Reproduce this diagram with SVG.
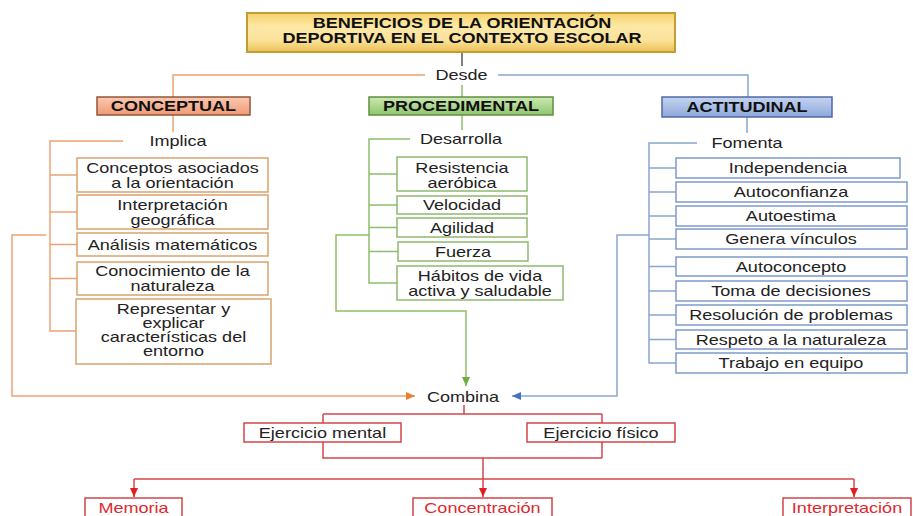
<svg xmlns="http://www.w3.org/2000/svg" width="913" height="516" viewBox="0 0 913 516">
<defs>
<style>
.t{font-family:"Liberation Sans",Arial,sans-serif;font-size:14px;fill:#222;text-anchor:middle}
.b{font-weight:bold;fill:#111}
.r{fill:#e0282e}
.bo{fill:#fff;stroke:#d9a36e;stroke-width:1.5}
.bg{fill:#fff;stroke:#8fb870;stroke-width:1.5}
.bb{fill:#fff;stroke:#7f9acb;stroke-width:1.5}
.br{fill:#fff;stroke:#d2454b;stroke-width:1.5}
.lo{fill:none;stroke:#eaa473;stroke-width:1.5}
.lg{fill:none;stroke:#8dbf6c;stroke-width:1.5}
.lb{fill:none;stroke:#8aa5cf;stroke-width:1.5}
.lr{fill:none;stroke:#d6454b;stroke-width:1.5}
</style>
<linearGradient id="gy" x1="0" y1="0" x2="0" y2="1">
<stop offset="0" stop-color="#f5d26a"/><stop offset="0.35" stop-color="#fde8a6"/><stop offset="0.7" stop-color="#fbe29c"/><stop offset="1" stop-color="#eac050"/>
</linearGradient>
<linearGradient id="go" x1="0" y1="0" x2="0" y2="1">
<stop offset="0" stop-color="#fbc9b1"/><stop offset="1" stop-color="#ef9a77"/>
</linearGradient>
<linearGradient id="gg" x1="0" y1="0" x2="0" y2="1">
<stop offset="0" stop-color="#cde8b5"/><stop offset="1" stop-color="#90c56c"/>
</linearGradient>
<linearGradient id="gb" x1="0" y1="0" x2="0" y2="1">
<stop offset="0" stop-color="#c5d3f0"/><stop offset="1" stop-color="#8ea8dc"/>
</linearGradient>
<marker id="ao" markerUnits="userSpaceOnUse" markerWidth="9" markerHeight="8" refX="9" refY="4" orient="auto"><path d="M0,0 L9,4 L0,8 z" fill="#ed7d31"/></marker>
<marker id="ag" markerUnits="userSpaceOnUse" markerWidth="9" markerHeight="8" refX="9" refY="4" orient="auto"><path d="M0,0 L9,4 L0,8 z" fill="#70ad47"/></marker>
<marker id="ab" markerUnits="userSpaceOnUse" markerWidth="9" markerHeight="8" refX="9" refY="4" orient="auto"><path d="M0,0 L9,4 L0,8 z" fill="#4472c4"/></marker>
<marker id="ar" markerUnits="userSpaceOnUse" markerWidth="9" markerHeight="8" refX="9" refY="4" orient="auto"><path d="M0,0 L9,4 L0,8 z" fill="#e02020"/></marker>
</defs>
<rect width="913" height="516" fill="#fff"/>

<g id="connectors">
<path d="M462,52 V66" fill="none" stroke="#555" stroke-width="1.5"/>
<path class="lo" d="M425,75 H173 V97"/>
<path class="lb" d="M498,75 H748 V97"/>
<path class="lg" d="M462,85 V97"/>
<path class="lo" d="M173,115 V132"/>
<path class="lg" d="M462,115 V130"/>
<path class="lb" d="M747,117 V133"/>
<path class="lo" d="M123,141 H50 V331 H77 M50,175 H77 M50,212 H77 M50,244.5 H77 M50,278.5 H77"/>
<path class="lg" d="M410,139 H369 V283 H397 M369,174 H397 M369,205 H397 M369,227.5 H397 M369,251.5 H398"/>
<path class="lb" d="M697,143 H649 V363 H676 M649,168 H676 M649,192 H676 M649,216 H676 M649,239 H676 M649,266.5 H676 M649,291 H676 M649,315 H676 M649,339.5 H676"/>
<path class="lo" d="M46,235 H12 V396 H415" marker-end="url(#ao)"/>
<path class="lg" d="M369,235 H336 V311 H466 V386" marker-end="url(#ag)"/>
<path class="lb" d="M649,235 H617 V396 H512" marker-end="url(#ab)"/>
<path class="lr" d="M464,405 V414 M323,414 H602 M323,414 V423 M602,414 V423 M323,442 V458 H602 M602,442 V458 M134,479 H854"/>
<path class="lr" d="M483,458 V497" marker-end="url(#ar)"/>
<path class="lr" d="M134,479 V497" marker-end="url(#ar)"/>
<path class="lr" d="M854,479 V497" marker-end="url(#ar)"/>
</g>

<g id="title">
<rect x="247" y="13" width="428" height="39" fill="url(#gy)" stroke="#c29d36" stroke-width="2"/>
<text class="t b" transform="translate(462 28) scale(1.29 1)">BENEFICIOS DE LA ORIENTACIÓN</text>
<text class="t b" transform="translate(462 43) scale(1.29 1)">DEPORTIVA EN EL CONTEXTO ESCOLAR</text>
</g>
<g id="desde"><text class="t" transform="translate(461.5 80) scale(1.29 1)">Desde</text></g>

<g id="conceptual">
<rect x="97" y="97" width="153" height="18" fill="url(#go)" stroke="#93553a" stroke-width="1.5"/>
<text class="t b" transform="translate(173.5 111) scale(1.29 1)">CONCEPTUAL</text>
</g>
<g id="procedimental">
<rect x="369" y="97" width="184" height="18" fill="url(#gg)" stroke="#5f8f40" stroke-width="1.5"/>
<text class="t b" transform="translate(461 111) scale(1.29 1)">PROCEDIMENTAL</text>
</g>
<g id="actitudinal">
<rect x="662" y="97" width="170" height="20" fill="url(#gb)" stroke="#4d6aa5" stroke-width="1.5"/>
<text class="t b" transform="translate(747 112) scale(1.29 1)">ACTITUDINAL</text>
</g>

<g id="implica"><text class="t" transform="translate(178 146) scale(1.29 1)">Implica</text></g>
<g id="desarrolla"><text class="t" transform="translate(461 144) scale(1.29 1)">Desarrolla</text></g>
<g id="fomenta"><text class="t" transform="translate(747 148) scale(1.29 1)">Fomenta</text></g>

<g id="c1"><rect class="bo" x="77" y="158" width="191" height="34"/>
<text class="t" transform="translate(172.5 173) scale(1.29 1)"><tspan x="0">Conceptos asociados</tspan><tspan x="0" dy="15">a la orientación</tspan></text></g>
<g id="c2"><rect class="bo" x="77" y="195" width="191" height="34"/>
<text class="t" transform="translate(172.5 210) scale(1.29 1)"><tspan x="0">Interpretación</tspan><tspan x="0" dy="15">geográfica</tspan></text></g>
<g id="c3"><rect class="bo" x="77" y="233" width="191" height="23"/>
<text class="t" transform="translate(172.5 249.5) scale(1.29 1)">Análisis matemáticos</text></g>
<g id="c4"><rect class="bo" x="77" y="262" width="191" height="33"/>
<text class="t" transform="translate(172.5 276) scale(1.29 1)"><tspan x="0">Conocimiento de la</tspan><tspan x="0" dy="15">naturaleza</tspan></text></g>
<g id="c5"><rect class="bo" x="76" y="299" width="195" height="65"/>
<text class="t" transform="translate(173.5 314) scale(1.29 1)"><tspan x="0">Representar y</tspan><tspan x="0" dy="14">explicar</tspan><tspan x="0" dy="14.5">características del</tspan><tspan x="0" dy="14">entorno</tspan></text></g>

<g id="p1"><rect class="bg" x="397" y="157" width="130" height="34"/>
<text class="t" transform="translate(462 173) scale(1.29 1)"><tspan x="0">Resistencia</tspan><tspan x="0" dy="15">aeróbica</tspan></text></g>
<g id="p2"><rect class="bg" x="397" y="196" width="130" height="18"/>
<text class="t" transform="translate(462 210) scale(1.29 1)">Velocidad</text></g>
<g id="p3"><rect class="bg" x="397" y="218" width="130" height="19"/>
<text class="t" transform="translate(462 232.5) scale(1.29 1)">Agilidad</text></g>
<g id="p4"><rect class="bg" x="398" y="242" width="130" height="19"/>
<text class="t" transform="translate(463 256.5) scale(1.29 1)">Fuerza</text></g>
<g id="p5"><rect class="bg" x="397" y="266" width="166" height="34"/>
<text class="t" transform="translate(480 281) scale(1.29 1)"><tspan x="0">Hábitos de vida</tspan><tspan x="0" dy="15">activa y saludable</tspan></text></g>

<g id="a1"><rect class="bb" x="676" y="158" width="224" height="20"/>
<text class="t" transform="translate(788 173) scale(1.29 1)">Independencia</text></g>
<g id="a2"><rect class="bb" x="676" y="182" width="231" height="20"/>
<text class="t" transform="translate(791 197) scale(1.29 1)">Autoconfianza</text></g>
<g id="a3"><rect class="bb" x="676" y="206" width="231" height="20"/>
<text class="t" transform="translate(791 221) scale(1.29 1)">Autoestima</text></g>
<g id="a4"><rect class="bb" x="676" y="229" width="231" height="20"/>
<text class="t" transform="translate(791 244) scale(1.29 1)">Genera vínculos</text></g>
<g id="a5"><rect class="bb" x="676" y="257" width="231" height="19"/>
<text class="t" transform="translate(791 271.5) scale(1.29 1)">Autoconcepto</text></g>
<g id="a6"><rect class="bb" x="676" y="281" width="231" height="20"/>
<text class="t" transform="translate(791 296) scale(1.29 1)">Toma de decisiones</text></g>
<g id="a7"><rect class="bb" x="676" y="305" width="231" height="20"/>
<text class="t" transform="translate(791 320) scale(1.29 1)">Resolución de problemas</text></g>
<g id="a8"><rect class="bb" x="676" y="330" width="231" height="19"/>
<text class="t" transform="translate(791 344.5) scale(1.29 1)">Respeto a la naturaleza</text></g>
<g id="a9"><rect class="bb" x="676" y="353" width="231" height="20"/>
<text class="t" transform="translate(791 368) scale(1.29 1)">Trabajo en equipo</text></g>

<g id="combina"><text class="t" transform="translate(463 402) scale(1.29 1)">Combina</text></g>

<g id="ejercicio-mental"><rect class="br" x="244" y="423" width="157" height="19"/>
<text class="t" transform="translate(322.5 437.5) scale(1.29 1)">Ejercicio mental</text></g>
<g id="ejercicio-fisico"><rect class="br" x="527" y="423" width="148" height="19"/>
<text class="t" transform="translate(601 437.5) scale(1.29 1)">Ejercicio físico</text></g>

<g id="memoria"><rect class="br" x="85" y="498" width="97" height="22"/>
<text class="t r" transform="translate(133.5 512.5) scale(1.29 1)">Memoria</text></g>
<g id="concentracion"><rect class="br" x="413" y="498" width="139" height="22"/>
<text class="t r" transform="translate(482.5 512.5) scale(1.29 1)">Concentración</text></g>
<g id="interpretacion"><rect class="br" x="783" y="498" width="128" height="22"/>
<text class="t r" transform="translate(847 512.5) scale(1.29 1)">Interpretación</text></g>
</svg>
